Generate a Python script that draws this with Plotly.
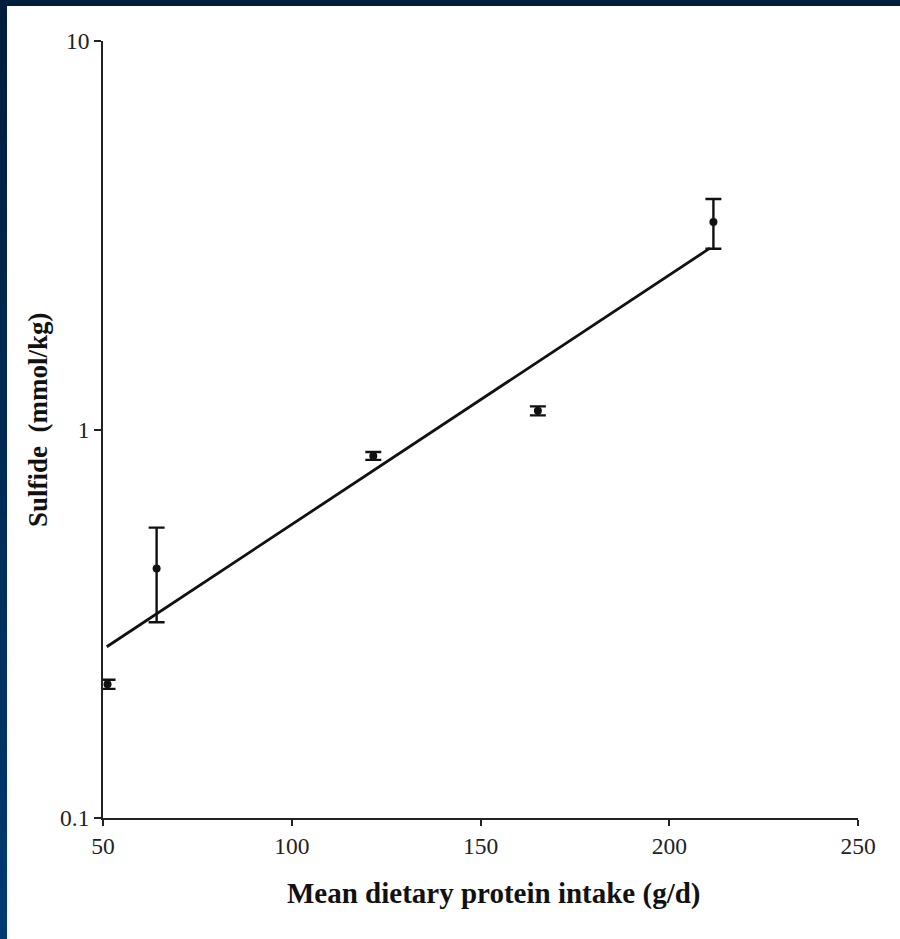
import plotly.graph_objects as go
import numpy as np

# Data
protein_intake = [51.2, 64.2, 121.6, 165.2, 211.7]
sulfide = [0.221, 0.439, 0.855, 1.117, 3.42]
sulfide_err = [0.006, 0.12, 0.02, 0.03, 0.5]

fit_x = [51.0, 210.8]
fit_y = [0.276, 2.93]

x_ticks = [50, 100, 150, 200, 250]
y_ticks = [0.1, 1, 10]
y_ticklabels = ["0.1", "1", "10"]

W, H = 900, 939
ML, MR, MT, MB = 103, 42, 41, 121
PW, PH = W - ML - MR, H - MT - MB

def px(xpix):
    return (xpix - ML) / PW

def py(ypix):
    return (H - MB - ypix) / PH

fig = go.Figure()

fig.add_trace(go.Scatter(
    x=fit_x, y=fit_y, mode="lines",
    line=dict(color="#111111", width=2.8),
    showlegend=False, hoverinfo="skip"))

fig.add_trace(go.Scatter(
    x=protein_intake, y=sulfide, mode="markers",
    marker=dict(color="#111111", size=8),
    error_y=dict(type="data", array=sulfide_err, visible=True,
                 color="#111111", thickness=2.4, width=8),
    showlegend=False))

font_family = "Liberation Serif, Times New Roman, serif"

fig.update_layout(
    width=W, height=H,
    margin=dict(l=ML, r=MR, t=MT, b=MB),
    paper_bgcolor="white", plot_bgcolor="white",
    font=dict(family=font_family, color="#222222", size=23),
    xaxis=dict(range=[50, 250], tickvals=x_ticks, ticks="outside",
               ticklen=6, tickwidth=1.5, tickcolor="#222222",
               showline=True, linecolor="#222222", linewidth=1.8,
               showgrid=False, zeroline=False,
               tickfont=dict(size=23.5, family=font_family)),
    yaxis=dict(type="log", range=[-1, 1], tickvals=y_ticks,
               ticktext=y_ticklabels, ticks="outside",
               ticklen=7, tickwidth=1.5, tickcolor="#222222",
               showline=True, linecolor="#222222", linewidth=1.8,
               showgrid=False, zeroline=False,
               tickfont=dict(size=23.5, family=font_family)),
)

fig.add_annotation(
    text="<b>Mean dietary protein intake (g/d)</b>",
    xref="paper", yref="paper", x=px(494), y=py(893),
    showarrow=False, font=dict(size=29, family=font_family, color="#111111"),
    xanchor="center", yanchor="middle")
fig.add_annotation(
    text="<b>Sulfide  (mmol/kg)</b>",
    xref="paper", yref="paper", x=px(38), y=py(420),
    showarrow=False, textangle=-90,
    font=dict(size=27, family=font_family, color="#111111"),
    xanchor="center", yanchor="middle")

# frame bands (top and left)
n = 40
top_c = np.array([0x00, 0x1e, 0x3c])
bot_c = np.array([0x00, 0x3a, 0x70])
for i in range(n):
    t = i / (n - 1)
    c = (top_c * (1 - t) + bot_c * t).astype(int)
    fig.add_shape(type="rect", xref="paper", yref="paper",
                  x0=px(-1), x1=px(7), y0=py(H * (i + 1) / n + 2), y1=py(H * i / n - 1),
                  fillcolor="rgb(%d,%d,%d)" % tuple(c), line=dict(width=0), layer="above")
fig.add_shape(type="rect", xref="paper", yref="paper",
              x0=px(-1), x1=px(W + 1), y0=py(6), y1=py(-1),
              fillcolor="#001e3c", line=dict(width=0), layer="above")

fig.write_html("out.html", config={"displayModeBar": False},
               post_script="document.body.style.margin='0';")
